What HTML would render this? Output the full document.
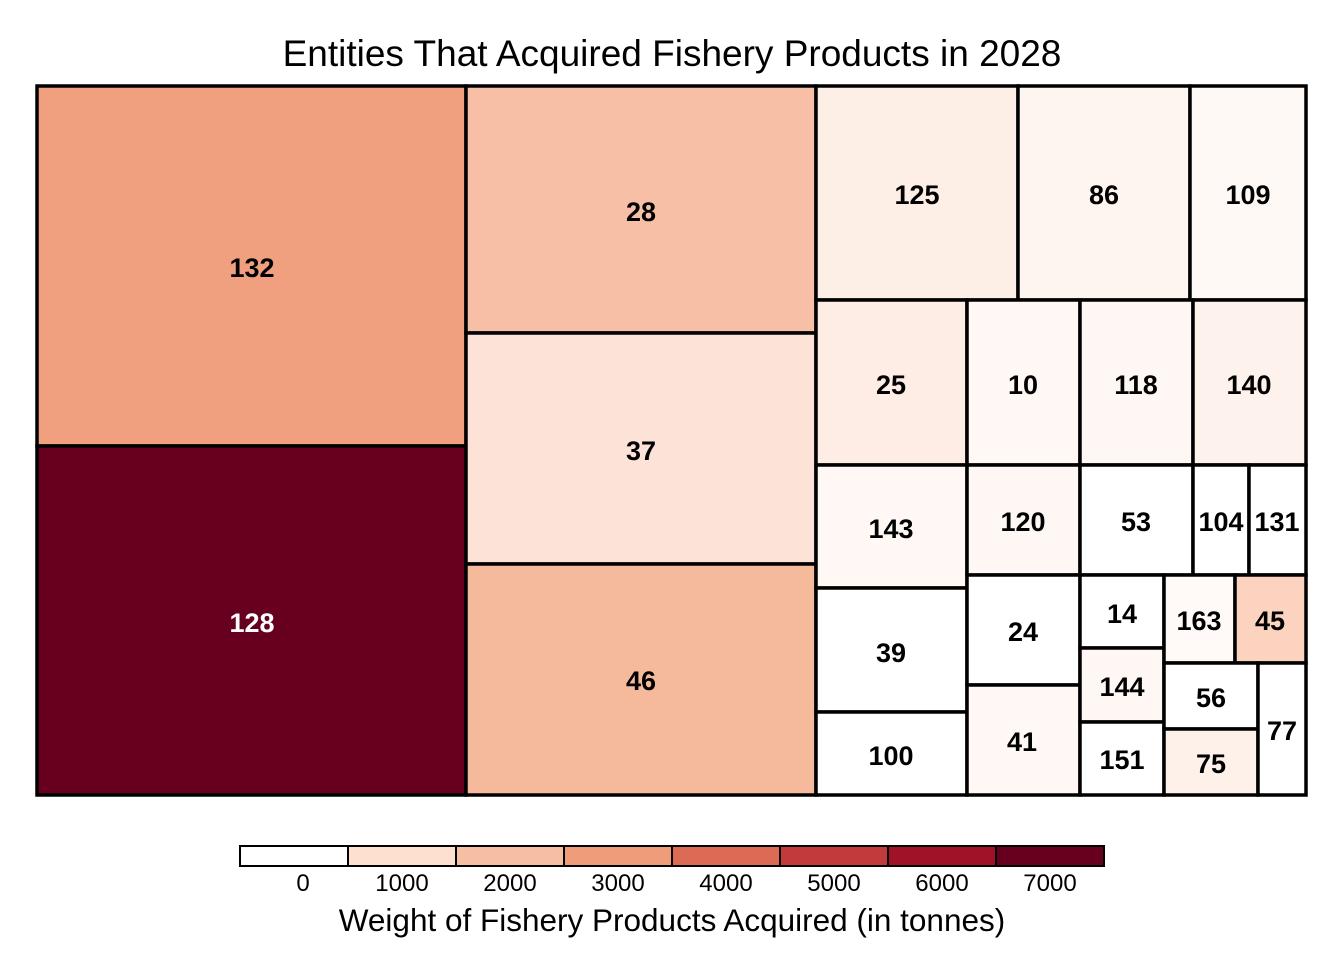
<!DOCTYPE html>
<html><head><meta charset="utf-8"><style>body{margin:0;background:#fff}</style></head><body>
<svg width="1344" height="960" xmlns="http://www.w3.org/2000/svg" font-family="Liberation Sans, sans-serif">
<rect width="1344" height="960" fill="#fff"/>
<text x="672" y="66" text-anchor="middle" font-size="37">Entities That Acquired Fishery Products in 2028</text>
<g stroke="#000" stroke-width="3.5">
<rect x="37" y="86" width="429" height="360" fill="#F0A07E"/>
<rect x="37" y="446" width="429" height="349" fill="#67001F"/>
<rect x="466" y="86" width="350" height="247" fill="#F6BFA6"/>
<rect x="466" y="333" width="350" height="231" fill="#FDE3D7"/>
<rect x="466" y="564" width="350" height="231" fill="#F5B99C"/>
<rect x="816" y="86" width="202" height="214" fill="#FDEEE6"/>
<rect x="1018" y="86" width="172" height="214" fill="#FEF5F0"/>
<rect x="1190" y="86" width="116" height="214" fill="#FFF9F6"/>
<rect x="816" y="300" width="151" height="165" fill="#FDEDE4"/>
<rect x="967" y="300" width="113" height="165" fill="#FFF8F5"/>
<rect x="1080" y="300" width="113" height="165" fill="#FFF7F3"/>
<rect x="1193" y="300" width="113" height="165" fill="#FEF2EC"/>
<rect x="816" y="465" width="151" height="123" fill="#FFF8F5"/>
<rect x="816" y="588" width="151" height="124" fill="#fff"/>
<rect x="816" y="712" width="151" height="83" fill="#fff"/>
<rect x="967" y="465" width="113" height="110" fill="#FFF7F3"/>
<rect x="967" y="575" width="113" height="110" fill="#fff"/>
<rect x="967" y="685" width="113" height="110" fill="#FFF8F4"/>
<rect x="1080" y="465" width="113" height="110" fill="#fff"/>
<rect x="1193" y="465" width="56" height="110" fill="#fff"/>
<rect x="1249" y="465" width="57" height="110" fill="#fff"/>
<rect x="1080" y="575" width="84" height="73" fill="#fff"/>
<rect x="1080" y="648" width="84" height="74" fill="#FFF7F3"/>
<rect x="1080" y="722" width="84" height="73" fill="#fff"/>
<rect x="1164" y="575" width="71" height="88" fill="#FFF9F7"/>
<rect x="1235" y="575" width="71" height="88" fill="#FBD3BF"/>
<rect x="1164" y="663" width="94" height="66" fill="#fff"/>
<rect x="1164" y="729" width="94" height="66" fill="#FEF1EA"/>
<rect x="1258" y="663" width="48" height="132" fill="#fff"/>
</g>
<g font-size="27" font-weight="bold" text-anchor="middle">
<text x="252" y="277">132</text>
<text x="252" y="632" fill="#fff">128</text>
<text x="641" y="221">28</text>
<text x="641" y="460">37</text>
<text x="641" y="690">46</text>
<text x="917" y="204">125</text>
<text x="1104" y="204">86</text>
<text x="1248" y="204">109</text>
<text x="891" y="394">25</text>
<text x="1023" y="394">10</text>
<text x="1136" y="394">118</text>
<text x="1249" y="394">140</text>
<text x="891" y="538">143</text>
<text x="891" y="662">39</text>
<text x="891" y="765">100</text>
<text x="1023" y="531">120</text>
<text x="1023" y="641">24</text>
<text x="1022" y="751">41</text>
<text x="1136" y="531">53</text>
<text x="1221" y="531">104</text>
<text x="1277" y="531">131</text>
<text x="1122" y="623">14</text>
<text x="1122" y="696">144</text>
<text x="1122" y="769">151</text>
<text x="1199" y="630">163</text>
<text x="1270" y="630">45</text>
<text x="1211" y="707">56</text>
<text x="1211" y="773">75</text>
<text x="1282" y="740">77</text>
</g>
<g stroke="#000" stroke-width="2">
<rect x="240" y="846" width="108" height="20" fill="#fff"/>
<rect x="348" y="846" width="108" height="20" fill="#FDE0D0"/>
<rect x="456" y="846" width="108" height="20" fill="#F6BFA4"/>
<rect x="564" y="846" width="108" height="20" fill="#EF9C7A"/>
<rect x="672" y="846" width="108" height="20" fill="#DC6B55"/>
<rect x="780" y="846" width="108" height="20" fill="#C13B3C"/>
<rect x="888" y="846" width="108" height="20" fill="#A01228"/>
<rect x="996" y="846" width="108" height="20" fill="#67001F"/>
</g>
<g font-size="24" text-anchor="middle">
<text x="303" y="891">0</text>
<text x="402" y="891">1000</text>
<text x="510" y="891">2000</text>
<text x="618" y="891">3000</text>
<text x="726" y="891">4000</text>
<text x="834" y="891">5000</text>
<text x="942" y="891">6000</text>
<text x="1050" y="891">7000</text>
</g>
<text x="672" y="931" text-anchor="middle" font-size="31.5">Weight of Fishery Products Acquired (in tonnes)</text>
</svg>
</body></html>
